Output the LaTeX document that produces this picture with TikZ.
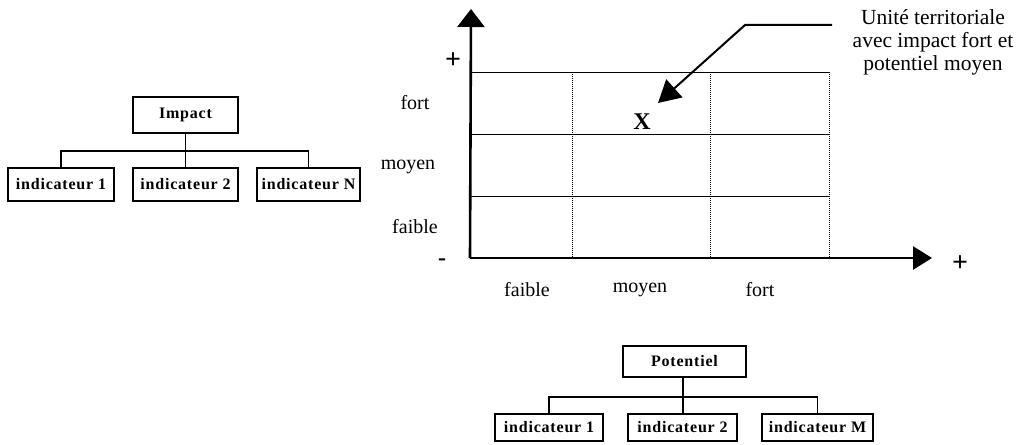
\documentclass[tikz,border=0pt]{standalone}
\usepackage{fontspec}
\setmainfont{Liberation Serif}
\newfontfamily\boxfont[LetterSpace=5]{Liberation Serif}
\usetikzlibrary{arrows.meta}
\begin{document}
\begin{tikzpicture}[x=1pt,y=-1pt,
  box/.style={draw,line width=2pt,inner sep=0pt,font=\boxfont\bfseries\fontsize{16}{18}\selectfont},
  conn/.style={line width=1.6pt},
  axis/.style={line width=2.6pt},
  gridh/.style={line width=0.9pt},
  gridv/.style={line width=1pt,densely dotted},
  lab/.style={font=\fontsize{20}{22}\selectfont,inner sep=0pt},
  sign/.style={font=\bfseries\fontsize{28}{30}\selectfont,inner sep=0pt}]
\useasboundingbox (0,0) rectangle (1032,444);
% left tree
\node[box,minimum width=105pt,minimum height=36pt] (impact) at (185.5,115) {Impact};
\node[box,minimum width=106pt,minimum height=33pt] (i1) at (61,184.5) {indicateur 1};
\node[box,minimum width=105pt,minimum height=33pt] (i2) at (185.5,184.5) {indicateur 2};
\node[box,minimum width=103pt,minimum height=33pt] (iN) at (308.5,184.5) {indicateur N};
\coordinate (busA) at (185.5,151);
\draw[conn] (impact) -- (busA);
\draw[conn] (busA) -| (i1);
\draw[conn] (busA) -- (i2);
\draw[conn] (busA) -| (iN);
% bottom tree
\node[box,minimum width=123pt,minimum height=31pt] (pot) at (684.5,361.5) {Potentiel};
\node[box,minimum width=108pt,minimum height=27pt] (p1) at (549,427.5) {indicateur 1};
\node[box,minimum width=109pt,minimum height=27pt] (p2) at (682.5,427.5) {indicateur 2};
\node[box,minimum width=111pt,minimum height=27pt] (pM) at (817.5,427.5) {indicateur M};
\coordinate (busB) at (683,397);
\draw[conn] (pot.south -| busB) -- (busB);
\draw[conn] (busB) -| (p1);
\draw[conn] (busB) -- (p2.north -| busB);
\draw[conn] (busB) -| (pM);
% grid
\draw[gridh] (470,72) -- (829,72);
\draw[gridh] (470,134) -- (829,134);
\draw[gridh] (470,196) -- (829,196);
\draw[gridv] (572,72) -- (572,258);
\draw[gridv] (710,72) -- (710,258);
\draw[gridv] (829,72) -- (829,258);
% axes
\coordinate (orig) at (470,258);
\coordinate (ytip) at (471,9);
\coordinate (xtip) at (932,258);
\draw[axis,-{Triangle[length=18pt,width=27pt]}] (orig) -- (ytip);
\draw[axis,-{Triangle[length=19pt,width=23pt]}] (orig) -- (xtip);
% labels
\node[sign] (yplus) at (453,61) {+};
\node[font=\bfseries\fontsize{24}{26}\selectfont,inner sep=0pt] (yminus) at (442,262) {-};
\node[sign] (xplus) at (960,264) {+};
\node[lab] (lfort) at (415,103) {fort};
\node[lab] (lmoyen) at (408,167) {moyen};
\node[lab] (lfaible) at (415,227) {faible};
\node[lab] (bfaible) at (527,290) {faible};
\node[lab] (bmoyen) at (640,290) {moyen};
\node[lab] (bfort) at (760,290) {fort};
\node[font=\bfseries\fontsize{24}{26}\selectfont,inner sep=0pt] (X) at (642,122) {X};
% annotation
\node[align=center,inner sep=0pt,font=\fontsize{21.5}{23}\selectfont] (annot) at (933,42) {Unité territoriale\\avec impact fort et\\potentiel moyen};
\coordinate (astart) at (832,25);
\coordinate (abend) at (745,25);
\coordinate (atip) at (658,103);
\draw[line width=2pt,-{Triangle[length=22pt,width=24pt]}] (astart) -- (abend) -- (atip);
\end{tikzpicture}
\end{document}
